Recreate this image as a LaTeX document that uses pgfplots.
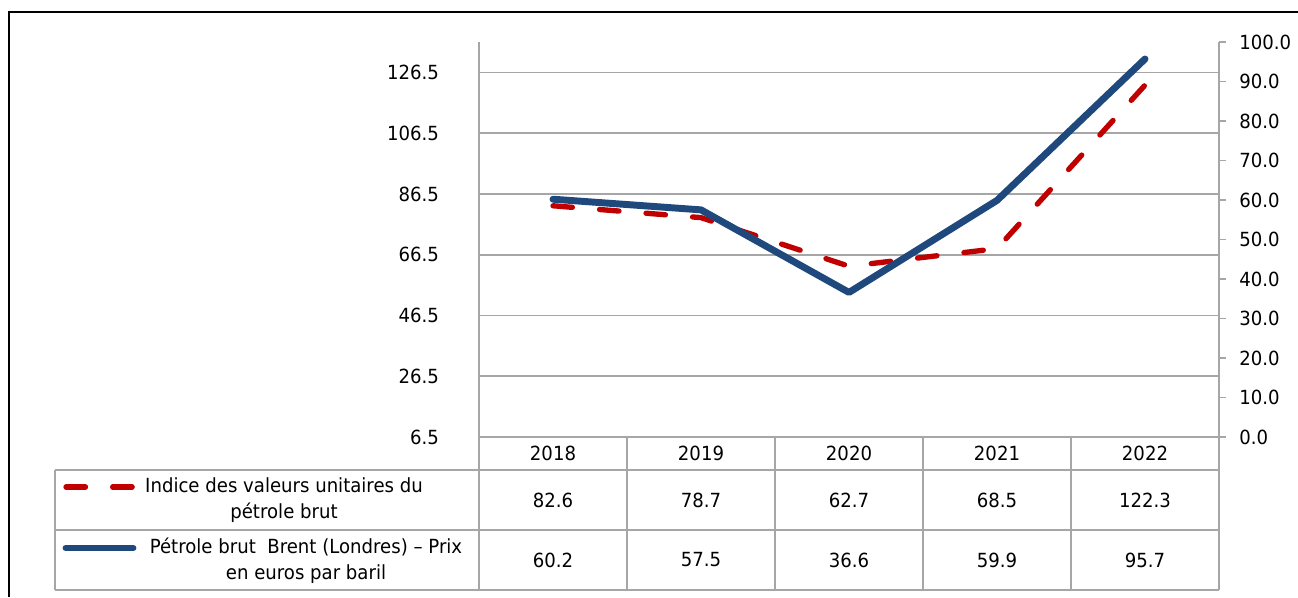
\documentclass[border=0pt]{standalone}
\usepackage{fontspec}
\setmainfont{DejaVu Sans}[FakeStretch=0.93]
\usepackage{pgfplots}
\pgfplotsset{compat=1.18}
\usepackage{pgfplotstable}

\definecolor{brentblue}{RGB}{31,73,125}
\definecolor{indred}{RGB}{192,0,0}
\definecolor{gridgray}{RGB}{166,166,166}

\pgfplotstableread{
x year indice brent
0 2018 82.6 60.2
1 2019 78.7 57.5
2 2020 62.7 36.6
3 2021 68.5 59.9
4 2022 122.3 95.7
}\data

\begin{document}
\fontsize{14.6}{19.5}\selectfont
\begin{tikzpicture}
\useasboundingbox (0,0) rectangle (973.5pt,447.75pt);
\pgfplotsset{
  common/.style={
    at={(359.25pt,120pt)}, anchor=south west,
    scale only axis, width=555pt, height=296.25pt,
    xmin=-0.5, xmax=4.5,
    /pgf/number format/assume math mode=true,
    /pgf/number format/fixed, /pgf/number format/fixed zerofill,
    /pgf/number format/precision=1,
    clip=false,
  }
}
\begin{axis}[common,
  ymin=6.5, ymax=136.5,
  ytick={6.5,26.5,46.5,66.5,86.5,106.5,126.5},
  axis x line*=bottom, axis y line*=left,
  xtick=\empty,
  ymajorgrids, grid style={gridgray, line width=1.3pt},
  axis line style={gridgray, line width=1.3pt, -},
  major tick length=0pt,
  yticklabel style={anchor=east, xshift=-25pt},
]
\addplot[indred, line width=4pt, dash pattern=on 14.6pt off 20.4pt, line cap=round, line join=round] table[x=x,y=indice]{\data};
\end{axis}
\begin{axis}[common,
  ymin=0, ymax=100, ytick={0,10,...,100},
  axis y line*=right, axis x line=none,
  axis line style={gridgray, line width=1.3pt, -},
  tick style={gridgray, line width=1.3pt},
  tick align=outside, major tick length=5.25pt,
  yticklabel style={anchor=west, xshift=5pt},
]
\addplot[brentblue, line width=5.2pt, line cap=round, line join=round] table[x=x,y=brent]{\data};
\end{axis}
\begin{scope}[x=0.75pt,y=-0.75pt,shift={(0pt,447.75pt)}]
  % outer frame
  \draw[black, line width=1.2pt] (9,597) -- (9,12) -- (1298,12);
  % table lines
  \begin{scope}[gridgray, line width=1.3pt]
    \draw (55,470) -- (1219,470);
    \draw (55,530) -- (1219,530);
    \draw (55,590) -- (1219,590);
    \draw (55,470) -- (55,590);
    \foreach \xx in {479,627,775,923,1071,1219} \draw (\xx,437) -- (\xx,590);
  \end{scope}
  % header and values
  \foreach \i/\yy/\a/\b in {0/2018/82.6/60.2,1/2019/78.7/57.5,2/2020/62.7/36.6,3/2021/68.5/59.9,4/2022/122.3/95.7}{
    \node at (553+148*\i,453) {\yy};
    \node at (553+148*\i,500) {\a};
    \node at (553+148*\i,560) {\b};
  }
  % legend keys
  \draw[indred, line width=4pt, line cap=round, dash pattern=on 14.6pt off 20.4pt] (66,487) -- (133,487);
  \draw[brentblue, line width=5.2pt, line cap=round] (66,548) -- (133,548);
  \node[align=center] at (284,500) {Indice des valeurs unitaires du\\pétrole brut};
  \node[align=center] at (306,561) {Pétrole brut\ \ Brent (Londres) – Prix\\en euros par baril};
\end{scope}
\end{tikzpicture}
\end{document}
